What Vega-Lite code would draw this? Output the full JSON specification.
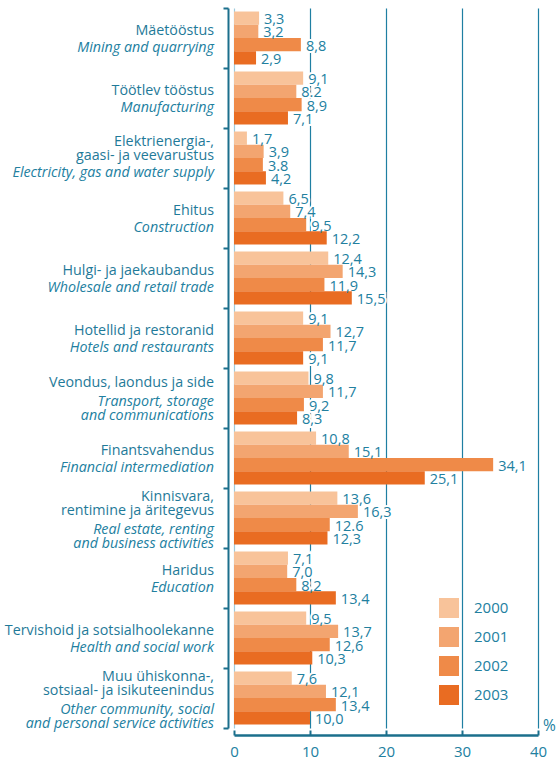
{
  "$schema": "https://vega.github.io/schema/vega-lite/v6.json",
  "autosize": {"type": "none"},
  "width": 304,
  "height": 720,
  "padding": {"left": 234, "top": 8, "right": 20, "bottom": 33},
  "background": "white",
  "config": {"view": {"stroke": null}, "font": "Open Sans"},
  "datasets": {
    "bars": [
      {"cat": 1, "year": "2000", "value": 3.3, "label": "3,3"},
      {"cat": 1, "year": "2001", "value": 3.2, "label": "3,2"},
      {"cat": 1, "year": "2002", "value": 8.8, "label": "8,8"},
      {"cat": 1, "year": "2003", "value": 2.9, "label": "2,9"},
      {"cat": 2, "year": "2000", "value": 9.1, "label": "9,1"},
      {"cat": 2, "year": "2001", "value": 8.2, "label": "8.2"},
      {"cat": 2, "year": "2002", "value": 8.9, "label": "8,9"},
      {"cat": 2, "year": "2003", "value": 7.1, "label": "7,1"},
      {"cat": 3, "year": "2000", "value": 1.7, "label": "1,7"},
      {"cat": 3, "year": "2001", "value": 3.9, "label": "3,9"},
      {"cat": 3, "year": "2002", "value": 3.8, "label": "3.8"},
      {"cat": 3, "year": "2003", "value": 4.2, "label": "4,2"},
      {"cat": 4, "year": "2000", "value": 6.5, "label": "6,5"},
      {"cat": 4, "year": "2001", "value": 7.4, "label": "7,4"},
      {"cat": 4, "year": "2002", "value": 9.5, "label": "9,5"},
      {"cat": 4, "year": "2003", "value": 12.2, "label": "12,2"},
      {"cat": 5, "year": "2000", "value": 12.4, "label": "12,4"},
      {"cat": 5, "year": "2001", "value": 14.3, "label": "14,3"},
      {"cat": 5, "year": "2002", "value": 11.9, "label": "11,9"},
      {"cat": 5, "year": "2003", "value": 15.5, "label": "15,5"},
      {"cat": 6, "year": "2000", "value": 9.1, "label": "9,1"},
      {"cat": 6, "year": "2001", "value": 12.7, "label": "12,7"},
      {"cat": 6, "year": "2002", "value": 11.7, "label": "11,7"},
      {"cat": 6, "year": "2003", "value": 9.1, "label": "9,1"},
      {"cat": 7, "year": "2000", "value": 9.8, "label": "9,8"},
      {"cat": 7, "year": "2001", "value": 11.7, "label": "11,7"},
      {"cat": 7, "year": "2002", "value": 9.2, "label": "9,2"},
      {"cat": 7, "year": "2003", "value": 8.3, "label": "8,3"},
      {"cat": 8, "year": "2000", "value": 10.8, "label": "10,8"},
      {"cat": 8, "year": "2001", "value": 15.1, "label": "15,1"},
      {"cat": 8, "year": "2002", "value": 34.1, "label": "34,1"},
      {"cat": 8, "year": "2003", "value": 25.1, "label": "25,1"},
      {"cat": 9, "year": "2000", "value": 13.6, "label": "13,6"},
      {"cat": 9, "year": "2001", "value": 16.3, "label": "16,3"},
      {"cat": 9, "year": "2002", "value": 12.6, "label": "12.6"},
      {"cat": 9, "year": "2003", "value": 12.3, "label": "12,3"},
      {"cat": 10, "year": "2000", "value": 7.1, "label": "7,1"},
      {"cat": 10, "year": "2001", "value": 7.0, "label": "7,0"},
      {"cat": 10, "year": "2002", "value": 8.2, "label": "8,2"},
      {"cat": 10, "year": "2003", "value": 13.4, "label": "13,4"},
      {"cat": 11, "year": "2000", "value": 9.5, "label": "9,5"},
      {"cat": 11, "year": "2001", "value": 13.7, "label": "13,7"},
      {"cat": 11, "year": "2002", "value": 12.6, "label": "12,6"},
      {"cat": 11, "year": "2003", "value": 10.3, "label": "10,3"},
      {"cat": 12, "year": "2000", "value": 7.6, "label": "7,6"},
      {"cat": 12, "year": "2001", "value": 12.1, "label": "12,1"},
      {"cat": 12, "year": "2002", "value": 13.4, "label": "13,4"},
      {"cat": 12, "year": "2003", "value": 10.0, "label": "10,0"}
    ],
    "labels": [
      {"cat": 1, "et": ["Mäetööstus"], "en": ["Mining and quarrying"]},
      {"cat": 2, "et": ["Töötlev tööstus"], "en": ["Manufacturing"]},
      {"cat": 3, "et": ["Elektrienergia-,", "gaasi- ja veevarustus"], "en": ["Electricity, gas and water supply"]},
      {"cat": 4, "et": ["Ehitus"], "en": ["Construction"]},
      {"cat": 5, "et": ["Hulgi- ja jaekaubandus"], "en": ["Wholesale and retail trade"]},
      {"cat": 6, "et": ["Hotellid ja restoranid"], "en": ["Hotels and restaurants"]},
      {"cat": 7, "et": ["Veondus, laondus ja side"], "en": ["Transport, storage", "and communications"]},
      {"cat": 8, "et": ["Finantsvahendus"], "en": ["Financial intermediation"]},
      {"cat": 9, "et": ["Kinnisvara,", "rentimine ja äritegevus"], "en": ["Real estate, renting", "and business activities"]},
      {"cat": 10, "et": ["Haridus"], "en": ["Education"]},
      {"cat": 11, "et": ["Tervishoid ja sotsialhoolekanne"], "en": ["Health and social work"]},
      {"cat": 12, "et": ["Muu ühiskonna-,", "sotsiaal- ja isikuteenindus"], "en": ["Other community, social", "and personal service activities"]}
    ]
  },
  "layer": [
    {
      "data": {"name": "bars"},
      "mark": {"type": "text", "align": "left", "baseline": "middle", "dx": 5, "dy": 2, "fontSize": 14.5, "fill": "white", "stroke": "white", "strokeWidth": 4},
      "encoding": {
        "x": {"field": "value", "type": "quantitative"},
        "y": {"field": "cat", "type": "ordinal"},
        "yOffset": {"field": "year", "type": "nominal"},
        "text": {"field": "label", "type": "nominal"}
      }
    },
    {
      "data": {"name": "bars"},
      "mark": {"type": "bar"},
      "encoding": {
        "x": {
          "field": "value", "type": "quantitative",
          "scale": {"domain": [0, 40], "nice": false},
          "axis": {
            "values": [0, 10, 20, 30, 40],
            "title": "%",
            "offset": 7,
            "grid": true,
            "gridColor": {"condition": {"test": "datum.value === 0", "value": "#9fcbdc"}, "value": "#1f7fa2"},
            "gridWidth": 1.2,
            "domainColor": "#1b6f8c",
            "domainWidth": 2.5,
            "tickColor": "#1b6f8c",
            "tickWidth": 2,
            "tickSize": -5,
            "labelFontSize": 15,
            "labelColor": "#22809f",
            "labelPadding": 14,
            "labelFlush": false,
            "titleX": 315,
            "titleY": -10,
            "titleFontSize": 15.5,
            "titleFontWeight": "normal",
            "titleColor": "#22809f",
            "titleAlign": "center",
            "titleBaseline": "middle"
          }
        },
        "y": {
          "field": "cat", "type": "ordinal",
          "scale": {"paddingInner": 0, "paddingOuter": 0},
          "axis": {
            "labels": false,
            "title": null,
            "offset": 6,
            "grid": false,
            "domainColor": "#1b6f8c",
            "domainWidth": 2,
            "tickColor": "#1b6f8c",
            "tickWidth": 2,
            "tickSize": 5,
            "tickBand": "extent"
          }
        },
        "yOffset": {"field": "year", "type": "nominal", "scale": {"paddingInner": 0, "paddingOuter": 0.265}},
        "color": {
          "field": "year", "type": "nominal",
          "scale": {"range": ["#f8c39a", "#f3a570", "#ef8a48", "#e96c22"]},
          "legend": {
            "orient": "none",
            "legendX": 205,
            "legendY": 590,
            "title": null,
            "symbolType": "square",
            "symbolSize": 400,
            "symbolStrokeWidth": 0,
            "symbolOpacity": 1,
            "labelFontSize": 15,
            "labelColor": "#22809f",
            "labelOffset": 15,
            "rowPadding": 9
          }
        }
      }
    },
    {
      "data": {"name": "bars"},
      "mark": {"type": "text", "align": "left", "baseline": "middle", "dx": 5, "dy": 2, "fontSize": 14.5, "color": "#22809f"},
      "encoding": {
        "x": {"field": "value", "type": "quantitative"},
        "y": {"field": "cat", "type": "ordinal"},
        "yOffset": {"field": "year", "type": "nominal"},
        "text": {"field": "label", "type": "nominal"}
      }
    },
    {
      "data": {"name": "labels"},
      "mark": {
        "type": "text", "align": "right", "baseline": "middle", "dx": -20,
        "dy": {"expr": "length(datum.et) == 2 ? (length(datum.en) == 2 ? -21 : -16) : (length(datum.en) == 2 ? -15 : -7.5)"},
        "lineHeight": 14, "fontSize": 14.3, "color": "#1f7a99"
      },
      "encoding": {
        "x": {"datum": 0},
        "y": {"field": "cat", "type": "ordinal"},
        "text": {"field": "et", "type": "nominal"}
      }
    },
    {
      "data": {"name": "labels"},
      "mark": {
        "type": "text", "align": "right", "baseline": "middle", "dx": -20,
        "dy": {"expr": "length(datum.en) == 2 ? (length(datum.et) == 2 ? 12 : 4) : (length(datum.et) == 2 ? 15 : 9.5)"},
        "lineHeight": 14, "fontSize": 14.3, "fontStyle": "italic", "color": "#22809f"
      },
      "encoding": {
        "x": {"datum": 0},
        "y": {"field": "cat", "type": "ordinal"},
        "text": {"field": "en", "type": "nominal"}
      }
    }
  ]
}
